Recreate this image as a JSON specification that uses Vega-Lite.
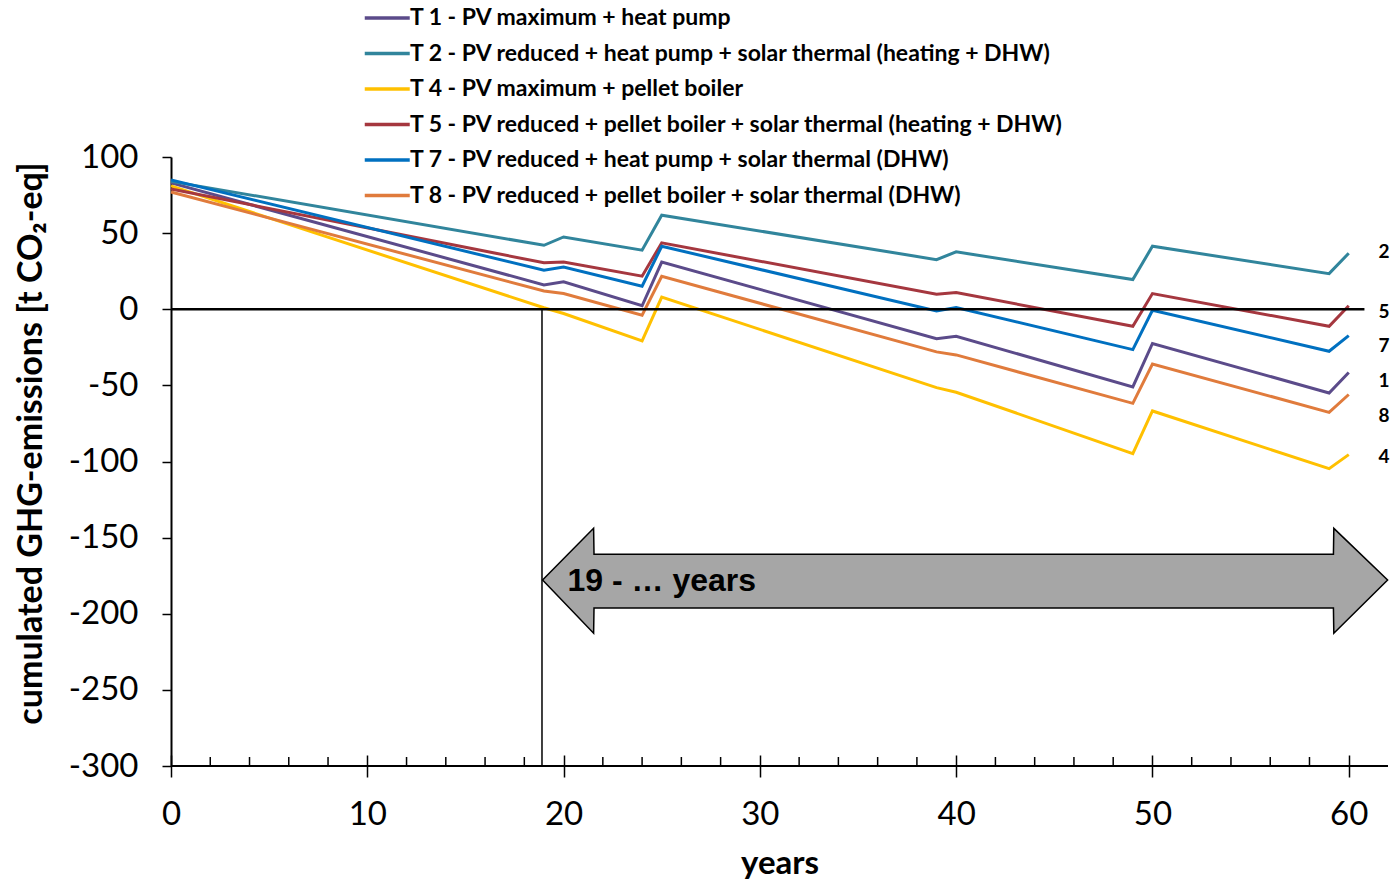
{
  "$schema": "https://vega.github.io/schema/vega-lite/v6.json",
  "width": 1217,
  "height": 609,
  "autosize": {"type": "none"},
  "padding": {"left": 171, "top": 157, "right": 5, "bottom": 116},
  "background": "white",
  "config": {
    "view": {"stroke": null},
    "font": "Lato",
    "axis": {"grid": false, "domainColor": "black", "tickColor": "black", "labelColor": "black", "titleColor": "black"}
  },
  "datasets": {
    "lines": [
      {"s": "T 1 - PV maximum + heat pump", "year": 0, "v": 83},
      {"s": "T 1 - PV maximum + heat pump", "year": 19, "v": 16},
      {"s": "T 1 - PV maximum + heat pump", "year": 20, "v": 18},
      {"s": "T 1 - PV maximum + heat pump", "year": 24, "v": 2.3},
      {"s": "T 1 - PV maximum + heat pump", "year": 25, "v": 31},
      {"s": "T 1 - PV maximum + heat pump", "year": 39, "v": -19.3},
      {"s": "T 1 - PV maximum + heat pump", "year": 40, "v": -17.7},
      {"s": "T 1 - PV maximum + heat pump", "year": 49, "v": -51},
      {"s": "T 1 - PV maximum + heat pump", "year": 50, "v": -22.5},
      {"s": "T 1 - PV maximum + heat pump", "year": 59, "v": -55},
      {"s": "T 1 - PV maximum + heat pump", "year": 60, "v": -41.5},
      {"s": "T 2 - PV reduced + heat pump + solar thermal (heating + DHW)", "year": 0, "v": 84},
      {"s": "T 2 - PV reduced + heat pump + solar thermal (heating + DHW)", "year": 19, "v": 42},
      {"s": "T 2 - PV reduced + heat pump + solar thermal (heating + DHW)", "year": 20, "v": 47.5},
      {"s": "T 2 - PV reduced + heat pump + solar thermal (heating + DHW)", "year": 24, "v": 38.8},
      {"s": "T 2 - PV reduced + heat pump + solar thermal (heating + DHW)", "year": 25, "v": 61.8},
      {"s": "T 2 - PV reduced + heat pump + solar thermal (heating + DHW)", "year": 39, "v": 32.6},
      {"s": "T 2 - PV reduced + heat pump + solar thermal (heating + DHW)", "year": 40, "v": 37.7},
      {"s": "T 2 - PV reduced + heat pump + solar thermal (heating + DHW)", "year": 49, "v": 19.5},
      {"s": "T 2 - PV reduced + heat pump + solar thermal (heating + DHW)", "year": 50, "v": 41.4},
      {"s": "T 2 - PV reduced + heat pump + solar thermal (heating + DHW)", "year": 59, "v": 23.4},
      {"s": "T 2 - PV reduced + heat pump + solar thermal (heating + DHW)", "year": 60, "v": 36.8},
      {"s": "T 4 - PV maximum + pellet boiler", "year": 0, "v": 81},
      {"s": "T 4 - PV maximum + pellet boiler", "year": 19, "v": 1},
      {"s": "T 4 - PV maximum + pellet boiler", "year": 20, "v": -2.8},
      {"s": "T 4 - PV maximum + pellet boiler", "year": 24, "v": -20.8},
      {"s": "T 4 - PV maximum + pellet boiler", "year": 25, "v": 8},
      {"s": "T 4 - PV maximum + pellet boiler", "year": 39, "v": -51.5},
      {"s": "T 4 - PV maximum + pellet boiler", "year": 40, "v": -54.5},
      {"s": "T 4 - PV maximum + pellet boiler", "year": 49, "v": -94.8},
      {"s": "T 4 - PV maximum + pellet boiler", "year": 50, "v": -66.8},
      {"s": "T 4 - PV maximum + pellet boiler", "year": 59, "v": -104.7},
      {"s": "T 4 - PV maximum + pellet boiler", "year": 60, "v": -95.5},
      {"s": "T 5 - PV reduced + pellet boiler + solar thermal (heating + DHW)", "year": 0, "v": 79},
      {"s": "T 5 - PV reduced + pellet boiler + solar thermal (heating + DHW)", "year": 19, "v": 30.5},
      {"s": "T 5 - PV reduced + pellet boiler + solar thermal (heating + DHW)", "year": 20, "v": 31},
      {"s": "T 5 - PV reduced + pellet boiler + solar thermal (heating + DHW)", "year": 24, "v": 21.7},
      {"s": "T 5 - PV reduced + pellet boiler + solar thermal (heating + DHW)", "year": 25, "v": 43.6},
      {"s": "T 5 - PV reduced + pellet boiler + solar thermal (heating + DHW)", "year": 39, "v": 9.9},
      {"s": "T 5 - PV reduced + pellet boiler + solar thermal (heating + DHW)", "year": 40, "v": 11},
      {"s": "T 5 - PV reduced + pellet boiler + solar thermal (heating + DHW)", "year": 49, "v": -11.2},
      {"s": "T 5 - PV reduced + pellet boiler + solar thermal (heating + DHW)", "year": 50, "v": 10.3},
      {"s": "T 5 - PV reduced + pellet boiler + solar thermal (heating + DHW)", "year": 59, "v": -11.2},
      {"s": "T 5 - PV reduced + pellet boiler + solar thermal (heating + DHW)", "year": 60, "v": 2.3},
      {"s": "T 7 - PV reduced + heat pump + solar thermal (DHW)", "year": 0, "v": 85},
      {"s": "T 7 - PV reduced + heat pump + solar thermal (DHW)", "year": 19, "v": 25.6},
      {"s": "T 7 - PV reduced + heat pump + solar thermal (DHW)", "year": 20, "v": 27.8},
      {"s": "T 7 - PV reduced + heat pump + solar thermal (DHW)", "year": 24, "v": 15.1},
      {"s": "T 7 - PV reduced + heat pump + solar thermal (DHW)", "year": 25, "v": 41.4},
      {"s": "T 7 - PV reduced + heat pump + solar thermal (DHW)", "year": 39, "v": -1.2},
      {"s": "T 7 - PV reduced + heat pump + solar thermal (DHW)", "year": 40, "v": 1.1},
      {"s": "T 7 - PV reduced + heat pump + solar thermal (DHW)", "year": 49, "v": -26.5},
      {"s": "T 7 - PV reduced + heat pump + solar thermal (DHW)", "year": 50, "v": -0.7},
      {"s": "T 7 - PV reduced + heat pump + solar thermal (DHW)", "year": 59, "v": -27.6},
      {"s": "T 7 - PV reduced + heat pump + solar thermal (DHW)", "year": 60, "v": -17.3},
      {"s": "T 8 - PV reduced + pellet boiler + solar thermal (DHW)", "year": 0, "v": 77},
      {"s": "T 8 - PV reduced + pellet boiler + solar thermal (DHW)", "year": 19, "v": 12},
      {"s": "T 8 - PV reduced + pellet boiler + solar thermal (DHW)", "year": 20, "v": 10.3},
      {"s": "T 8 - PV reduced + pellet boiler + solar thermal (DHW)", "year": 24, "v": -3.9},
      {"s": "T 8 - PV reduced + pellet boiler + solar thermal (DHW)", "year": 25, "v": 21.7},
      {"s": "T 8 - PV reduced + pellet boiler + solar thermal (DHW)", "year": 39, "v": -28},
      {"s": "T 8 - PV reduced + pellet boiler + solar thermal (DHW)", "year": 40, "v": -30},
      {"s": "T 8 - PV reduced + pellet boiler + solar thermal (DHW)", "year": 49, "v": -61.8},
      {"s": "T 8 - PV reduced + pellet boiler + solar thermal (DHW)", "year": 50, "v": -36},
      {"s": "T 8 - PV reduced + pellet boiler + solar thermal (DHW)", "year": 59, "v": -67.7},
      {"s": "T 8 - PV reduced + pellet boiler + solar thermal (DHW)", "year": 60, "v": -56}
    ],
    "arrow": [
      {"year": 18.93, "lo": -177.8, "hi": -177.8},
      {"year": 21.53, "lo": -212.8, "hi": -143.9},
      {"year": 21.55, "lo": -196.2, "hi": -160.9},
      {"year": 59.22, "lo": -196.2, "hi": -160.9},
      {"year": 59.24, "lo": -212.8, "hi": -143.9},
      {"year": 61.98, "lo": -177.8, "hi": -177.8}
    ],
    "endlabels": [
      {"year": 61.8, "v": 37.6, "label": "2"},
      {"year": 61.8, "v": -1.8, "label": "5"},
      {"year": 61.8, "v": -24.1, "label": "7"},
      {"year": 61.8, "v": -47, "label": "1"},
      {"year": 61.8, "v": -70, "label": "8"},
      {"year": 61.8, "v": -97, "label": "4"}
    ],
    "minorticks": [
      {"t": 2}, {"t": 4}, {"t": 6}, {"t": 8}, {"t": 12}, {"t": 14}, {"t": 16}, {"t": 18},
      {"t": 22}, {"t": 24}, {"t": 26}, {"t": 28}, {"t": 32}, {"t": 34}, {"t": 36}, {"t": 38},
      {"t": 42}, {"t": 44}, {"t": 46}, {"t": 48}, {"t": 52}, {"t": 54}, {"t": 56}, {"t": 58}
    ]
  },
  "layer": [
    {
      "data": {"name": "lines"},
      "mark": {"type": "line", "strokeWidth": 3},
      "encoding": {
        "x": {"field": "year", "type": "quantitative",
              "scale": {"domain": [0, 62], "nice": false, "zero": false},
              "axis": {"values": [0,10,20,30,40,50,60], "offset": -11, "domain": false, "tickSize": 22, "tickWidth": 1.5, "labelFontSize": 33, "labelPadding": 21, "labelFont": "Lato", "labelFlush": false,
                       "title": "years", "titleFontSize": 33, "titleFontWeight": "bold", "titleFont": "Lato", "titleY": 118, "titleBaseline": "alphabetic"}},
        "y": {"field": "v", "type": "quantitative",
              "scale": {"domain": [-300, 100], "nice": false},
              "axis": {"values": [-300,-250,-200,-150,-100,-50,0,50,100], "labelExpr": "'' + datum.value", "tickSize": 9, "tickWidth": 1.5, "domainWidth": 2, "labelFontSize": 33, "labelPadding": 24, "labelFont": "Lato",
                       "title": "cumulated GHG-emissions [t CO₂-eq]", "titleFontSize": 34, "titleFontWeight": "bold", "titleFont": "Lato",
                       "titleAngle": -90, "titleX": -130, "titleY": 286, "titleAlign": "center", "titleBaseline": "alphabetic"}},
        "color": {"field": "s", "type": "nominal",
                  "scale": {"domain": ["T 1 - PV maximum + heat pump", "T 2 - PV reduced + heat pump + solar thermal (heating + DHW)", "T 4 - PV maximum + pellet boiler", "T 5 - PV reduced + pellet boiler + solar thermal (heating + DHW)", "T 7 - PV reduced + heat pump + solar thermal (DHW)", "T 8 - PV reduced + pellet boiler + solar thermal (DHW)"],
                            "range": ["#5b4b8a", "#31859c", "#ffc000", "#a5373f", "#0070c0", "#e07b3c"]},
                  "legend": {"orient": "none", "legendX": 192, "legendY": -152, "title": null, "symbolType": "M-1,0H3", "symbolSize": 506, "symbolStrokeWidth": 3.5,
                             "labelFont": "Lato", "labelFontSize": 23, "labelFontWeight": "bold", "labelColor": "black", "labelOffset": 21, "rowPadding": 10.5, "labelLimit": 900, "padding": 0}}
      }
    },
    {
      "data": {"name": "endlabels"},
      "mark": {"type": "text", "font": "Lato", "fontWeight": "bold", "fontSize": 19, "align": "center", "baseline": "middle", "color": "black"},
      "encoding": {
        "x": {"field": "year", "type": "quantitative"},
        "y": {"field": "v", "type": "quantitative"},
        "text": {"field": "label"}
      }
    },
    {
      "data": {"name": "arrow"},
      "mark": {"type": "area", "fill": "#a6a6a6", "stroke": "black", "strokeWidth": 1.5, "opacity": 1, "fillOpacity": 1},
      "encoding": {
        "x": {"field": "year", "type": "quantitative"},
        "y": {"field": "lo", "type": "quantitative"},
        "y2": {"field": "hi"}
      }
    },
    {
      "data": {"values": [{}]},
      "mark": {"type": "text", "text": "19 - … years", "font": "Liberation Sans", "fontWeight": "bold", "fontSize": 32, "align": "left", "baseline": "middle", "color": "black"},
      "encoding": {
        "x": {"datum": 20.2, "type": "quantitative"},
        "y": {"datum": -178.5, "type": "quantitative"}
      }
    },
    {
      "data": {"values": [{}]},
      "mark": {"type": "rule", "color": "black", "strokeWidth": 2.5},
      "encoding": {
        "x": {"datum": 0, "type": "quantitative"},
        "x2": {"datum": 60.8},
        "y": {"datum": 0, "type": "quantitative"}
      }
    },
    {
      "data": {"values": [{}]},
      "mark": {"type": "rule", "color": "black", "strokeWidth": 1.5},
      "encoding": {
        "x": {"datum": 18.9, "type": "quantitative"},
        "y": {"datum": 0, "type": "quantitative"},
        "y2": {"datum": -300}
      }
    },
    {
      "data": {"values": [{}]},
      "mark": {"type": "rule", "color": "black", "strokeWidth": 2},
      "encoding": {
        "x": {"datum": 0, "type": "quantitative"},
        "x2": {"datum": 62},
        "y": {"datum": -300, "type": "quantitative"}
      }
    },
    {
      "data": {"name": "minorticks"},
      "mark": {"type": "rule", "color": "black", "strokeWidth": 1.5},
      "encoding": {
        "x": {"field": "t", "type": "quantitative"},
        "y": {"datum": -300, "type": "quantitative"},
        "y2": {"datum": -294.1}
      }
    }
  ]
}
